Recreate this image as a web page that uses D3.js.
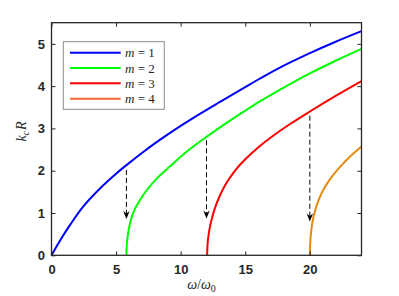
<!DOCTYPE html>
<html>
<head>
<meta charset="utf-8">
<script src="https://cdn.jsdelivr.net/npm/d3@7"></script>
<style>
  body { margin: 0; background: #fff; }
</style>
</head>
<body>
<script>
// cut-off curves k_c R against omega/omega_0, one per mode m
var modes = [1, 2, 3, 4];

var w1 = [0, 0.7, 1.44, 2.45, 3.75, 5, 6, 7, 8.3, 10, 11.3, 13, 15.4, 17.5, 20, 22, 24];
var k1 = [0, 0.37, 0.72, 1.15, 1.58, 1.93, 2.18, 2.42, 2.71, 3.06, 3.31, 3.62, 4.05, 4.41, 4.78, 5.05, 5.3];

var w2 = [5.8, 5.83, 5.92, 6.08, 6.4, 6.9, 7.4, 8.2, 9.2, 10.5, 12, 13.5, 15.4, 17.5, 20, 22, 24];
var k2 = [0, 0.25, 0.5, 0.76, 1.06, 1.33, 1.55, 1.83, 2.11, 2.46, 2.8, 3.12, 3.5, 3.88, 4.3, 4.6, 4.88];

var w3 = [12.05, 12.08, 12.15, 12.3, 12.5, 12.68, 13.05, 13.45, 14.15, 15, 16, 16.95, 18.5, 20, 22, 24];
var k3 = [0, 0.25, 0.46, 0.72, 0.96, 1.14, 1.42, 1.66, 1.98, 2.27, 2.55, 2.78, 3.11, 3.4, 3.77, 4.12];

var w4 = [20, 20.02, 20.07, 20.19, 20.4, 20.65, 20.96, 21.5, 22.25, 23, 24];
var k4 = [0, 0.25, 0.46, 0.76, 1.05, 1.28, 1.5, 1.77, 2.06, 2.3, 2.57];

var lineColors = ["#0000ff", "#00ff00", "#ff0000", "#e68a10"];
var legendColors = ["#0000ff", "#00ff00", "#ff0000", "#ff6633"];

// dashed arrows: position, start and tip
var arrowW = [5.8, 12, 20];
var arrowFrom = [2.02, 2.72, 3.3];
var arrowTo = [0.86, 0.87, 0.8];

var xTicks = [0, 5, 10, 15, 20];
var yTicks = [0, 1, 2, 3, 4, 5];

var width = 399, height = 296;
var plotL = 51.5, plotR = 361.5, plotT = 22.7, plotB = 255.3;

var svg = d3.select("body")
    .append("svg")
    .attr("width", width)
    .attr("height", height);

svg.append("rect")
    .attr("width", "100%")
    .attr("height", "100%")
    .attr("fill", "#fff");

var x = d3.scaleLinear().domain([0, 24]).range([plotL, plotR]);
var y = d3.scaleLinear().domain([0, 5.5]).range([plotB, plotT]);

var curves = [
    d3.zip(w1, k1),
    d3.zip(w2, k2),
    d3.zip(w3, k3),
    d3.zip(w4, k4)
];

var line = d3.line()
    .x(function(d) { return x(d[0]); })
    .y(function(d) { return y(d[1]); })
    .curve(d3.curveCatmullRom.alpha(0.5));

svg.append("g")
    .selectAll("path")
    .data(curves)
    .enter().append("path")
    .attr("d", line)
    .attr("fill", "none")
    .attr("stroke", function(d, i) { return lineColors[i]; })
    .attr("stroke-width", 2);

// arrows
var arrows = svg.append("g");
arrowW.forEach(function(w, i) {
    var ax = x(w), y0 = y(arrowFrom[i]), y1 = y(arrowTo[i]);
    arrows.append("line")
        .attr("x1", ax).attr("x2", ax)
        .attr("y1", y0).attr("y2", y1 - 5)
        .attr("stroke", "#000")
        .attr("stroke-width", 1)
        .attr("stroke-dasharray", "5,3");
    arrows.append("path")
        .attr("d", "M" + ax + "," + y1 +
            " L" + (ax - 3.2) + "," + (y1 - 8) +
            " L" + ax + "," + (y1 - 5.5) +
            " L" + (ax + 3.2) + "," + (y1 - 8) + " Z")
        .attr("fill", "#000");
});

// axes, ticks inside
var tickFont = function(g) {
    g.select(".domain").remove();
    g.selectAll(".tick line").attr("stroke", "#262626");
    g.selectAll("text")
        .attr("fill", "#262626")
        .style("font-family", "'Liberation Sans', Arial, sans-serif")
        .style("font-size", "13px")
        .style("font-weight", "bold");
};

svg.append("g")
    .attr("transform", "translate(0," + plotB + ")")
    .call(d3.axisBottom(x).tickValues(xTicks).tickSize(-4).tickPadding(9.5).tickFormat(d3.format("d")))
    .call(tickFont);

svg.append("g")
    .attr("transform", "translate(0," + plotT + ")")
    .call(d3.axisTop(x).tickValues(xTicks).tickSize(-4).tickFormat(""))
    .call(tickFont);

svg.append("g")
    .attr("transform", "translate(" + plotL + ",0)")
    .call(d3.axisLeft(y).tickValues(yTicks).tickSize(-4).tickPadding(6.5).tickFormat(d3.format("d")))
    .call(tickFont);

svg.append("g")
    .attr("transform", "translate(" + plotR + ",0)")
    .call(d3.axisRight(y).tickValues(yTicks).tickSize(-4).tickFormat(""))
    .call(tickFont);

svg.append("rect")
    .attr("x", plotL).attr("y", plotT)
    .attr("width", plotR - plotL).attr("height", plotB - plotT)
    .attr("fill", "none")
    .attr("stroke", "#262626")
    .attr("stroke-width", 1.3);

// axis labels
var serif = "'Liberation Serif', 'DejaVu Serif', serif";

var xl = svg.append("text")
    .attr("x", 201.5).attr("y", 289)
    .attr("text-anchor", "middle")
    .style("font-family", serif)
    .style("font-size", "14px")
    .attr("fill", "#262626");
xl.append("tspan").style("font-style", "italic").text("ω");
xl.append("tspan").text("/");
xl.append("tspan").style("font-style", "italic").text("ω");
xl.append("tspan").attr("dy", 3).style("font-size", "10px").text("0");

var yl = svg.append("text")
    .attr("transform", "translate(26,131.5) rotate(-90)")
    .attr("text-anchor", "middle")
    .style("font-family", serif)
    .style("font-size", "14px")
    .style("font-style", "italic")
    .attr("fill", "#262626");
yl.append("tspan").text("k");
yl.append("tspan").attr("dy", 3).style("font-size", "10px").text("c");
yl.append("tspan").attr("dy", -3).attr("dx", 1).text("R");

// legend
var legend = svg.append("g");
legend.append("rect")
    .attr("x", 63.3).attr("y", 41.7)
    .attr("width", 101).attr("height", 67.6)
    .attr("fill", "#fff")
    .attr("stroke", "#8c8c8c")
    .attr("stroke-width", 1);

var rowY = d3.scalePoint().domain(modes).range([52.7, 98.7]);

var rows = legend.selectAll("g.row")
    .data(modes)
    .enter().append("g")
    .attr("class", "row")
    .attr("transform", function(d) { return "translate(0," + rowY(d) + ")"; });

rows.append("line")
    .attr("x1", 70).attr("x2", 120.7)
    .attr("stroke", function(d, i) { return legendColors[i]; })
    .attr("stroke-width", 2);

var lt = rows.append("text")
    .attr("x", 125).attr("y", 4.5)
    .style("font-family", serif)
    .style("font-size", "13px")
    .attr("fill", "#262626");
lt.append("tspan").style("font-style", "italic").text("m");
lt.append("tspan").text(function(d) { return " = " + d; });
</script>
</body>
</html>
